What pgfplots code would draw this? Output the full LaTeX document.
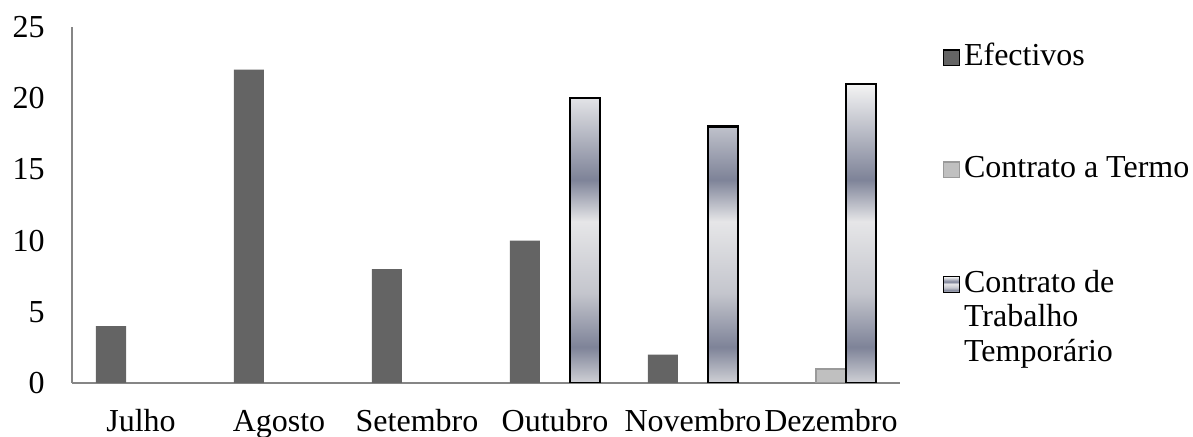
\documentclass[border=0pt]{standalone}
\usepackage{pgfplots}
\pgfplotsset{compat=1.18}
\usepackage{fontspec}
\setmainfont{Liberation Serif}

\definecolor{efect}{HTML}{646464}
\definecolor{termo}{HTML}{C0C0C0}
\definecolor{termoedge}{HTML}{9A9A9A}
\definecolor{axisgray}{HTML}{868686}
\definecolor{sheenlight}{HTML}{F4F4F4}
\definecolor{sheenmid}{HTML}{E6E6E8}
\definecolor{sheendark}{HTML}{7E8398}
\definecolor{sheenbase}{HTML}{D0D1D6}

% metallic sheen for the temporary-work bars (25bp = bottom, 75bp = top)
\pgfdeclareverticalshading{sheen}{100bp}{%
  color(0bp)=(sheenbase); color(25bp)=(sheenbase);
  color(31bp)=(sheendark); color(40bp)=(sheenbase!85!sheendark);
  color(52bp)=(sheenmid); color(59bp)=(sheendark);
  color(75bp)=(sheenlight); color(100bp)=(sheenlight)}

\begin{document}
\begin{tikzpicture}
\fontsize{16}{17.25}\selectfont
\useasboundingbox (-36pt,-27pt) rectangle (560.5pt,191.5pt);
\begin{axis}[
  at={(0pt,0pt)}, anchor=south west,
  scale only axis,
  width=414pt, height=178pt,
  ybar=0pt,
  bar width=0.2174,
  xmin=-0.5, xmax=5.5,
  ymin=0, ymax=25,
  ytick={0,5,10,15,20,25},
  xtick={0,1,2,3,4,5},
  xticklabels={Julho,Agosto,Setembro,Outubro,Novembro,Dezembro},
  axis x line=bottom, axis y line=left,
  axis line style={draw=axisgray, line width=1pt, -},
  major tick length=0pt,
  tick label style={font=\fontsize{16}{17.25}\selectfont},
  /pgf/number format/assume math mode=true,
  yticklabel style={anchor=east, inner sep=0pt, xshift=-13.5pt},
  xticklabel style={anchor=base, inner sep=0pt, yshift=-24.5pt},
  legend style={
    at={(1.052,0.9665)}, anchor=north west,
    draw=none, fill=none, inner sep=0pt, outer sep=0pt,
    font=\fontsize{16}{17.25}\selectfont,
    row sep=39pt, column sep=0pt,
    cells={anchor=base west},
  },
  legend image code/.code={\draw[#1, line width=0.7pt] (0pt,0pt) rectangle (7.8pt,7.8pt);},
]
\addplot[fill=efect, draw=none] coordinates {(0,4) (1,22) (2,8) (3,10) (4,2)};
\addlegendentry{Efectivos}
\addplot[fill=termo, draw=termoedge, line width=0.75pt] coordinates {(5,1)};
\addlegendentry{Contrato a Termo}
\addplot[shading=sheen, draw=black, line width=1.2pt] coordinates {(3,20) (4,18) (5,21)};
\addlegendentry{\begin{tabular}[t]{@{}l@{}}Contrato de\\Trabalho\\Temporário\end{tabular}}
\end{axis}
\end{tikzpicture}
\end{document}
